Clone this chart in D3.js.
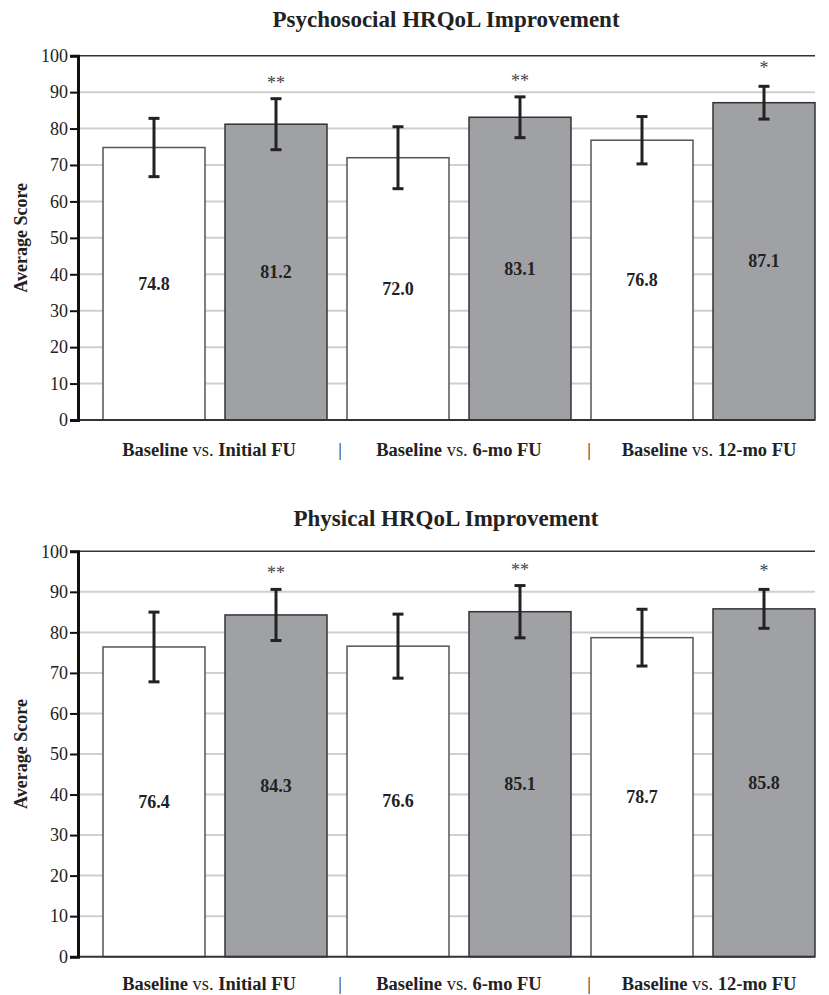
<!DOCTYPE html>
<html lang="en">
<head>
    <meta charset="UTF-8">
    <title>HRQoL Improvement</title>
    <script src="https://d3js.org/d3.v7.min.js"></script>
    <style>
        body { margin: 0; background: #fff; }
        svg text { font-family: "Liberation Serif", "Times New Roman", Times, serif; }
        .tick text { font-size: 18px; fill: #222; }
    </style>
</head>
<body>
    <script>
       // Data
       var barKeys = ["b1", "f1", "b2", "f2", "b3", "f3"];
       var groupNames = ["Initial FU", "6-mo FU", "12-mo FU"];
       var isBaseline = [true, false, true, false, true, false];
       var stars = ["", "**", "", "**", "", "*"];

       var psychoMeans = [74.8, 81.2, 72.0, 83.1, 76.8, 87.1];
       var psychoErr = [8.0, 7.0, 8.5, 5.6, 6.5, 4.5];

       var physMeans = [76.4, 84.3, 76.6, 85.1, 78.7, 85.8];
       var physErr = [8.6, 6.3, 7.9, 6.45, 7.0, 4.8];

       var yTicks = [0, 10, 20, 30, 40, 50, 60, 70, 80, 90, 100];

       var width = 829, height = 995;

       var svg = d3.select("body").append("svg")
           .attr("width", width)
           .attr("height", height);

       // shared x scale: 6 bars, first bar starts at 103, last ends at 815
       var x = d3.scaleBand()
           .domain(barKeys)
           .range([83, 835])
           .paddingInner(0.164)
           .paddingOuter(0.164);

       var plotLeft = 78, plotRight = 815;

       function drawPanel(title, means, errs, top, bottom, titleY, labelY) {
           var y = d3.scaleLinear().domain([0, 100]).range([bottom, top]);
           var g = svg.append("g");

           // title
           g.append("text")
               .attr("x", 446)
               .attr("y", titleY)
               .attr("text-anchor", "middle")
               .style("font-size", "23px")
               .style("font-weight", "bold")
               .attr("fill", "#222")
               .text(title);

           // gridlines
           g.selectAll(".grid")
               .data(yTicks.filter(function(d) { return d > 0 && d < 100; }))
               .enter().append("line")
               .attr("x1", plotLeft).attr("x2", plotRight)
               .attr("y1", function(d) { return y(d); })
               .attr("y2", function(d) { return y(d); })
               .attr("stroke", "#cfcfcf")
               .attr("stroke-width", 2);

           // top border
           g.append("line")
               .attr("x1", plotLeft).attr("x2", plotRight)
               .attr("y1", y(100)).attr("y2", y(100))
               .attr("stroke", "#333")
               .attr("stroke-width", 1.5);

           // bars
           g.selectAll(".bar")
               .data(means)
               .enter().append("rect")
               .attr("x", function(d, i) { return x(barKeys[i]); })
               .attr("y", function(d) { return y(d); })
               .attr("width", x.bandwidth())
               .attr("height", function(d) { return y(0) - y(d); })
               .attr("fill", function(d, i) { return isBaseline[i] ? "#ffffff" : "#a0a1a5"; })
               .attr("stroke", function(d, i) { return isBaseline[i] ? "#555" : "#333"; })
               .attr("stroke-width", 1.5);

           // value labels
           g.selectAll(".val")
               .data(means)
               .enter().append("text")
               .attr("x", function(d, i) { return x(barKeys[i]) + x.bandwidth() / 2; })
               .attr("y", function(d) { return y(d / 2) + 6; })
               .attr("text-anchor", "middle")
               .style("font-size", "18px")
               .style("font-weight", "bold")
               .attr("fill", "#222")
               .text(function(d) { return d.toFixed(1); });

           // error bars
           var eb = g.selectAll(".err")
               .data(means)
               .enter().append("g")
               .attr("stroke", "#222")
               .attr("stroke-width", 3);
           eb.append("line")
               .attr("x1", function(d, i) { return x(barKeys[i]) + x.bandwidth() / 2; })
               .attr("x2", function(d, i) { return x(barKeys[i]) + x.bandwidth() / 2; })
               .attr("y1", function(d, i) { return y(d + errs[i]); })
               .attr("y2", function(d, i) { return y(d - errs[i]); });
           eb.append("line")
               .attr("x1", function(d, i) { return x(barKeys[i]) + x.bandwidth() / 2 - 5.5; })
               .attr("x2", function(d, i) { return x(barKeys[i]) + x.bandwidth() / 2 + 5.5; })
               .attr("y1", function(d, i) { return y(d + errs[i]); })
               .attr("y2", function(d, i) { return y(d + errs[i]); });
           eb.append("line")
               .attr("x1", function(d, i) { return x(barKeys[i]) + x.bandwidth() / 2 - 5.5; })
               .attr("x2", function(d, i) { return x(barKeys[i]) + x.bandwidth() / 2 + 5.5; })
               .attr("y1", function(d, i) { return y(d - errs[i]); })
               .attr("y2", function(d, i) { return y(d - errs[i]); });

           // significance stars
           g.selectAll(".star")
               .data(means)
               .enter().append("text")
               .attr("x", function(d, i) { return x(barKeys[i]) + x.bandwidth() / 2; })
               .attr("y", function(d, i) { return y(d + errs[i]) - 10 + (stars[i].length == 1 ? -2 : 0); })
               .attr("text-anchor", "middle")
               .style("font-size", "18px")
               .attr("fill", "#444")
               .text(function(d, i) { return stars[i]; });

           // x axis line
           g.append("line")
               .attr("x1", plotLeft).attr("x2", plotRight)
               .attr("y1", y(0)).attr("y2", y(0))
               .attr("stroke", "#333")
               .attr("stroke-width", 2);

           // y axis
           var yAxis = g.append("g")
               .attr("transform", "translate(" + plotLeft + ",0)")
               .call(d3.axisLeft(y).tickValues(yTicks).tickSize(8).tickPadding(2));
           yAxis.attr("font-family", null);
           yAxis.select(".domain").attr("stroke", "#111").attr("stroke-width", 3);
           yAxis.selectAll(".tick line").attr("stroke", "#111").attr("stroke-width", 2);

           // y axis label
           g.append("text")
               .attr("transform", "translate(27," + ((top + bottom) / 2) + ") rotate(-90)")
               .attr("text-anchor", "middle")
               .style("font-size", "18px")
               .style("font-weight", "bold")
               .attr("fill", "#222")
               .text("Average Score");

           // group labels
           groupNames.forEach(function(name, k) {
               var x0 = x(barKeys[2 * k]);
               var x1 = x(barKeys[2 * k + 1]) + x.bandwidth();
               var t = g.append("text")
                   .attr("x", (x0 + x1) / 2 - 6 + 6 * k)
                   .attr("y", labelY)
                   .attr("text-anchor", "middle")
                   .style("font-size", "18.5px")
                   .attr("fill", "#222");
               t.append("tspan").style("font-weight", "bold").text("Baseline");
               t.append("tspan").text(" vs. ");
               t.append("tspan").style("font-weight", "bold").text(name);

               if (k < groupNames.length - 1) {
                   var sep = (x1 + x(barKeys[2 * k + 2])) / 2 + 3 + 5 * k;
                   g.append("text")
                       .attr("x", sep)
                       .attr("y", labelY)
                       .attr("text-anchor", "middle")
                       .style("font-size", "18px")
                       .attr("fill", "#222")
                       .text("|");
               }
           });
       }

       drawPanel("Psychosocial HRQoL Improvement", psychoMeans, psychoErr, 55.7, 420, 27, 456);
       drawPanel("Physical HRQoL Improvement", physMeans, physErr, 551.3, 956.7, 526, 990);
    </script>
</body>
</html>
